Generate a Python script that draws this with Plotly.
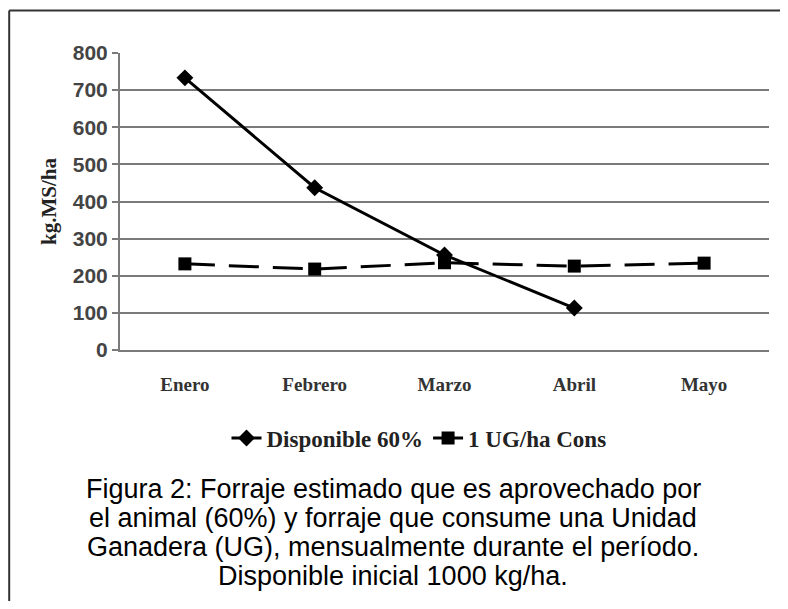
import plotly.graph_objects as go

meses = ["Enero", "Febrero", "Marzo", "Abril", "Mayo"]
disponible_60 = [733, 437, 256, 113, None]
ug_cons = [232, 218, 235, 226, 234]
y_ticks = [0, 100, 200, 300, 400, 500, 600, 700, 800]
caption_lines = [
    "Figura 2: Forraje estimado que es aprovechado por",
    "el animal (60%) y forraje que consume una Unidad",
    "Ganadera (UG), mensualmente durante el período.",
    "Disponible inicial 1000 kg/ha.",
]

# page body has an 8px margin; work in reference-pixel coordinates and offset
OFF = 8
W, H = 788 - 2 * OFF, 609 - 2 * OFF
plot_left, plot_right, plot_top, plot_bottom = 120, 769, 53, 350  # reference px
L = plot_left - OFF
R = (W + OFF) - plot_right
T = plot_top - OFF
B = (H + OFF) - plot_bottom
pw, ph = plot_right - plot_left, plot_bottom - plot_top

def px_x(x):
    return (x - plot_left) / pw

def px_y(y):
    return (plot_bottom - y) / ph

fig = go.Figure()
fig.add_trace(go.Scatter(
    x=meses, y=disponible_60, name="Disponible 60%",
    mode="lines+markers",
    line=dict(color="black", width=3),
    marker=dict(symbol="diamond", size=13, color="black"),
))
fig.add_trace(go.Scatter(
    x=meses, y=ug_cons, name="1 UG/ha Cons",
    mode="lines+markers",
    line=dict(color="black", width=3, dash="30px,14px"),
    marker=dict(symbol="square", size=13, color="black"),
))

fig.update_layout(
    width=W, height=H,
    margin=dict(l=L, r=R, t=T, b=B, pad=0),
    paper_bgcolor="white", plot_bgcolor="white",
    showlegend=True,
    legend=dict(
        orientation="h", x=px_x(419), xanchor="center",
        y=px_y(438), yanchor="middle",
        font=dict(family="Liberation Serif", size=23, color="#222", weight="bold"),
        tracegroupgap=0,
        bgcolor="rgba(0,0,0,0)",
    ),
    font=dict(family="Liberation Sans", color="#222"),
)

fig.update_xaxes(
    type="category", range=[-0.5, 4.5],
    showgrid=False, showline=True, linecolor="#7a7a7a", linewidth=2,
    ticks="", ticklabelstandoff=16,
    tickfont=dict(family="Liberation Serif", size=19, color="#333", weight="bold"),
    zeroline=False,
)
fig.update_yaxes(
    range=[0, 800], tickvals=y_ticks,
    showgrid=True, gridcolor="#7a7a7a", gridwidth=2,
    showline=True, linecolor="#7a7a7a", linewidth=2,
    ticks="outside", ticklen=6, tickcolor="#7a7a7a", tickwidth=2,
    tickfont=dict(family="Liberation Sans", size=21, color="#444", weight="bold"),
    zeroline=False,
    title=dict(text="kg.MS/ha", standoff=10,
               font=dict(family="Liberation Serif", size=21, color="#222", weight="bold")),
)

# outer frame: only left and top edges are visible in the reference
fig.add_shape(type="line", xref="paper", yref="paper",
              x0=px_x(OFF + 1.2), x1=px_x(OFF + 1.2), y0=px_y(700), y1=px_y(10.5),
              line=dict(color="#333", width=2), layer="below")
fig.add_shape(type="line", xref="paper", yref="paper",
              x0=px_x(OFF + 1.2), x1=px_x(900), y0=px_y(10.5), y1=px_y(10.5),
              line=dict(color="#333", width=2), layer="below")

caption_y = [489, 518, 547, 576]
for line, yy in zip(caption_lines, caption_y):
    fig.add_annotation(
        text=line, xref="paper", yref="paper",
        x=px_x(393), y=px_y(yy), xanchor="center", yanchor="middle",
        showarrow=False, align="center",
        font=dict(family="Liberation Sans", size=27, color="black"),
    )

fig.write_html("out.html")
